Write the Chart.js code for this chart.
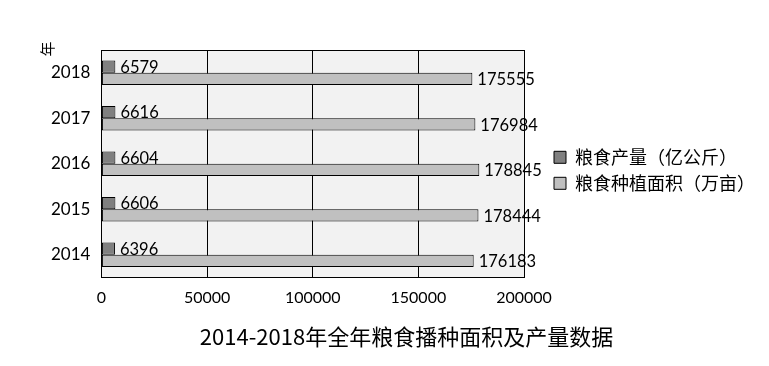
<!DOCTYPE html>
<html>
<head>
<meta charset="utf-8">
<script src="https://cdn.jsdelivr.net/npm/chart.js@4"></script>
<style>
	html, body { margin: 0; padding: 0; background: #fff; }
	#wrap { width: 769px; height: 366px; }
</style>
</head>
<body>
<div id="wrap"><canvas id="c" width="769" height="366"></canvas></div>
<script>
// categories, top to bottom
var years = ["2018", "2017", "2016", "2015", "2014"];
var yieldVals = [6579, 6616, 6604, 6606, 6396];
var areaVals = [175555, 176984, 178845, 178444, 176183];
var seriesNames = ["粮食产量（亿公斤）", "粮食种植面积（万亩）"];
var xTicks = [0, 50000, 100000, 150000, 200000];
var yTitle = "年";

var numFont = "Lato, 'Noto Sans CJK SC', sans-serif";
var cjkFont = "'Noto Sans CJK SC', sans-serif";

// grey plot background + black frame
var plotBg = {
	id: "plotBg",
	beforeDraw: function (chart) {
		var a = chart.chartArea, ctx = chart.ctx;
		ctx.save();
		ctx.fillStyle = "#f2f2f2";
		ctx.fillRect(a.left, a.top, a.right - a.left, a.bottom - a.top);
		ctx.restore();
	},
	afterDatasetsDraw: function (chart) {
		var a = chart.chartArea, ctx = chart.ctx;
		ctx.save();
		ctx.strokeStyle = "#000";
		ctx.lineWidth = 1;
		ctx.strokeRect(Math.round(a.left) + 0.5, Math.round(a.top) + 0.5,
			Math.round(a.right - a.left), Math.round(a.bottom - a.top));
		ctx.restore();
	},
};

// value labels at the end of each bar
var barLabels = {
	id: "barLabels",
	afterDatasetsDraw: function (chart) {
		var ctx = chart.ctx;
		ctx.save();
		ctx.font = "16.5px " + numFont;
		ctx.fillStyle = "#000";
		ctx.textBaseline = "middle";
		ctx.textAlign = "left";
		chart.data.datasets.forEach(function (ds, i) {
			chart.getDatasetMeta(i).data.forEach(function (bar, j) {
				ctx.fillText(String(ds.data[j]), bar.x + 5, bar.y + 1);
			});
		});
		ctx.restore();
	},
};

// the small rotated axis title sits above the year labels, near the plot corner
var yAxisTitle = {
	id: "yAxisTitle",
	afterDraw: function (chart) {
		var a = chart.chartArea, ctx = chart.ctx;
		ctx.save();
		ctx.translate(a.left - 54, a.top - 1);
		ctx.rotate(-Math.PI / 2);
		ctx.font = "15px " + cjkFont;
		ctx.fillStyle = "#000";
		ctx.textAlign = "center";
		ctx.textBaseline = "middle";
		ctx.fillText(yTitle, 0, 0);
		ctx.restore();
	},
};

new Chart(document.getElementById("c"), {
	type: "bar",
	data: {
		labels: years,
		datasets: [
			{
				label: seriesNames[0],
				data: yieldVals,
				backgroundColor: "#808080",
				borderColor: "#000",
				borderWidth: 1,
				borderSkipped: false,
				categoryPercentage: 0.54,
				barPercentage: 1.0,
			},
			{
				label: seriesNames[1],
				data: areaVals,
				backgroundColor: "#c0c0c0",
				borderColor: "#000",
				borderWidth: 1,
				borderSkipped: false,
				categoryPercentage: 0.54,
				barPercentage: 1.0,
			},
		],
	},
	options: {
		indexAxis: "y",
		responsive: false,
		animation: false,
		devicePixelRatio: 1,
		layout: { padding: { left: 48, right: 4, top: 50, bottom: 16 } },
		plugins: {
			legend: {
				position: "right",
				fullSize: false,
				maxWidth: 300,
				labels: {
					boxWidth: 12,
					boxHeight: 12,
					padding: 8,
					color: "#000",
					font: { family: cjkFont, size: 18 },
				},
				// blank title only nudges the two entries down a little
				title: {
					display: true,
					text: " ",
					font: { size: 6 },
					padding: { top: 3, bottom: 3 },
				},
			},
			title: {
				display: true,
				position: "bottom",
				text: "2014-2018年全年粮食播种面积及产量数据",
				color: "#000",
				font: { family: cjkFont, size: 22, weight: "normal" },
				padding: { top: 5, bottom: 0 },
			},
			tooltip: { enabled: false },
		},
		scales: {
			x: {
				min: 0,
				max: 200000,
				afterBuildTicks: function (axis) {
					axis.ticks = xTicks.map(function (v) { return { value: v }; });
				},
				grid: { color: "#000", drawTicks: false },
				border: { display: false },
				ticks: {
					color: "#000",
					padding: 11,
					maxRotation: 0,
					font: { family: numFont, size: 16 },
					callback: function (v) { return String(v); },
				},
			},
			y: {
				grid: { display: false },
				border: { display: false },
				ticks: {
					color: "#000",
					padding: 3,
					font: { family: numFont, size: 17 },
				},
			},
			// empty spacer between the plot and the legend
			gap: {
				type: "category",
				labels: years,
				position: "right",
				grid: { display: false },
				border: { display: false },
				ticks: { display: false },
				afterFit: function (axis) { axis.width = 22; },
			},
		},
	},
	plugins: [plotBg, barLabels, yAxisTitle],
});
</script>
</body>
</html>
